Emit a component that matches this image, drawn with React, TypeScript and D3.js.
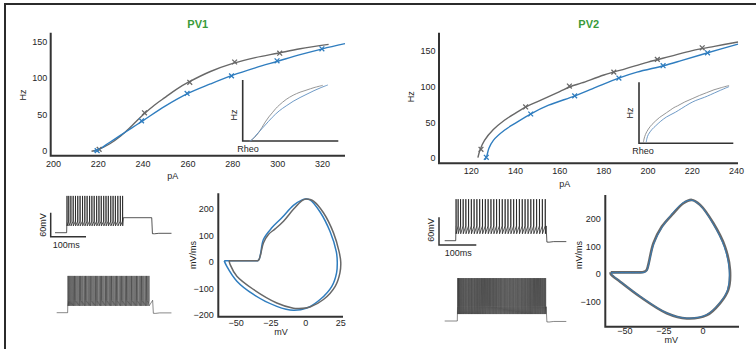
import React from "react";
import * as d3 from "d3";

type Pt = [number, number];

// ---- f-I curves (pA, Hz) ----
const pv1GrayFit: Pt[] = [[217, 0], [220, 2.5], [225, 10], [230, 21], [235, 35], [240, 50], [245, 63], [250, 74], [255, 85], [260, 94], [270, 109], [280, 120], [290, 128], [300, 134], [310, 140], [322.7, 146]];
const pv1BlueFit: Pt[] = [[218, 0], [220, 2], [225, 12], [230, 22], [235, 32], [240, 42], [250, 62], [260, 79], [270, 92], [280, 104], [290, 114], [300, 123], [310, 132], [320, 140], [330, 147]];
const pv1GrayPts: Pt[] = [[220.4, 2.7], [240.6, 52.6], [260.8, 94.3], [280.8, 122], [300.9, 134]];
const pv1BluePts: Pt[] = [[219.5, 1], [239.3, 41.6], [259.6, 79], [279.4, 103], [299.7, 123.6], [319.7, 140]];

const pv2GrayFit: Pt[] = [[123, 1], [124, 12], [126, 25], [130, 40], [135, 53], [140, 63], [145, 72], [150, 79], [160, 93], [165, 100], [170, 105], [180, 116], [190, 125], [200, 134], [210, 142], [220, 150], [230, 156], [240.7, 162]];
const pv2BlueFit: Pt[] = [[126.3, -2], [127, 3], [128, 14], [130, 25], [135, 39], [140, 49], [147, 62], [155, 74], [167, 87], [175, 97], [187, 112], [195, 120], [207, 129], [215, 136], [227, 147], [240.7, 159]];
const pv2GrayPts: Pt[] = [[124.4, 12.5], [144.6, 71.5], [164.4, 100.7], [184.5, 120], [204.2, 137.9], [224.5, 154]];
const pv2BluePts: Pt[] = [[126.8, 1.4], [146.9, 61.7], [166.8, 87], [186.8, 111.8], [206.8, 129], [226.9, 147]];

const pv1XTicks = [200, 220, 240, 260, 280, 300, 320];
const pv1YTicks = [0, 50, 100, 150];
const pv2XTicks = [120, 140, 160, 180, 200, 220, 240];
const pv2YTicks = [0, 50, 100, 150];

// ---- phase plots (mV, mV/ms) ----
const pv1PhaseGray: Pt[] = [[-55, 6], [-45, 6], [-38, 6], [-34, 7], [-32.7, 23], [-30.4, 73], [-26.8, 105], [-22, 126], [-16, 155], [-8.9, 200], [-3, 232], [0, 239], [3, 237], [5.5, 231], [12.6, 187], [19.8, 111], [23.8, 40], [25, 0], [24.4, -40], [21, -91], [12.6, -141], [3, -169], [-5, -175], [-8.9, -174], [-20.8, -154], [-37.5, -103], [-49.4, -53], [-54.2, -9], [-55, 6]];
const pv1PhaseBlue: Pt[] = [[-58.5, 6], [-45, 6], [-38, 6], [-34, 7], [-32.5, 30], [-30.4, 86], [-24.4, 130], [-17.2, 168], [-8.9, 215], [-3, 235], [0, 239], [3, 236], [10.2, 190], [17.4, 115], [21.8, 40], [22.5, 0], [22, -40], [18.6, -91], [10.2, -141], [0.7, -173], [-8.9, -182], [-20.8, -167], [-37.5, -122], [-49.4, -72], [-56.7, -15], [-58.5, 6]];
const pv2PhaseGray: Pt[] = [[-59, 6], [-50, 6], [-42, 6], [-38, 7], [-36, 15], [-35, 33], [-31.7, 112], [-26.3, 173], [-19, 221], [-12.6, 258], [-7.2, 270], [-1.9, 252], [6.6, 185], [14, 100], [17.2, 15], [16.1, -58], [10.8, -107], [2.4, -150], [-10.4, -162], [-23.2, -143], [-40.2, -83], [-53, -28], [-59, 0], [-59, 6]];
const pv2PhaseBlue: Pt[] = [[-58.5, 5], [-50, 5], [-42, 5], [-37.5, 6], [-36, 12], [-35, 30], [-31.5, 110], [-26, 172], [-19.5, 222], [-13, 259], [-7.5, 269], [-2.5, 254], [6, 187], [13.5, 100], [16.7, 15], [15.6, -58], [10.5, -106], [2, -149], [-10.6, -161], [-23.2, -142], [-40, -82], [-53, -27], [-58.5, 0], [-58.5, 5]];

const pv1PhaseXTicks = [-50, -25, 0, 25];
const pv1PhaseYTicks = [-200, -100, 0, 100, 200];
const pv2PhaseXTicks = [-50, -25, 0];
const pv2PhaseYTicks = [-100, 0, 100, 200];

// ---- spike trains (ms after step onset / inter-spike intervals) ----
const pv1TopSpikes = [1, 6, 12, 18.5, 25, 31.5, 38, 45, 51.5, 58, 65, 71.5, 78, 85, 91.5, 98, 105, 111.5, 118, 125, 131.5, 138, 145, 152, 158.5];
const pv1LowIsi = [2.6, 2.9, 3.1, 3.2, 3.3, 3.4, 3.3, 3.5, 3.4, 3.6, 3.4, 3.5, 3.3, 3.7, 3.4, 3.5, 3.6, 3.3, 3.4, 3.8, 3.5, 3.4, 3.6, 3.5, 3.3, 3.7, 3.5, 3.4, 3.6, 3.5, 3.8, 3.4, 3.5, 3.6, 3.3, 3.5, 3.7, 3.4, 3.6, 3.5, 3.4, 3.8, 3.5, 3.6, 3.4, 3.5, 3.7, 3.3, 3.6, 3.5, 3.4, 3.6, 3.7, 3.5, 3.4, 3.6, 3.5, 3.8, 3.4, 3.5, 3.6, 3.4, 3.7, 3.5, 3.6, 3.4];
const pv2TopIsi = [5.5, 6.5, 7, 7.2, 7.3, 7.4, 7.4, 7.5, 7.5, 7.5, 7.6, 7.5, 7.6, 7.6, 7.5, 7.6, 7.6, 7.7, 7.6, 7.6, 7.7, 7.6, 7.7, 7.7, 7.6, 7.7, 7.7, 7.7, 7.8, 7.7, 7.7, 7.8];
const pv2LowIsi = [2.2, 2.4, 2.5, 2.6, 2.6, 2.7, 2.5, 2.8, 2.6, 2.7, 2.9, 2.6, 2.7, 2.8, 2.5, 2.7, 2.9, 2.6, 2.8, 2.7, 2.6, 2.8, 2.7, 2.9, 2.6, 2.7, 2.8, 2.6, 2.9, 2.7, 2.8, 2.6, 2.7, 2.9, 2.7, 2.6, 2.8, 2.7, 2.6, 2.9, 2.7, 2.8, 2.6, 2.7, 2.9, 2.8, 2.6, 2.7, 2.8, 2.7, 2.9, 2.6, 2.7, 2.8, 2.7, 2.6, 2.9, 2.7, 2.8, 2.6, 2.7, 2.8, 2.9, 2.6, 2.7, 2.8, 2.7, 2.6, 2.9, 2.7, 2.8, 2.7, 2.6, 2.8, 2.9, 2.7, 2.6, 2.8, 2.7, 2.7, 2.8, 2.6, 2.9, 2.7, 2.8, 2.6, 2.7];

const FONT = "Liberation Sans, Arial, Helvetica, sans-serif";
const INK = "#262626";
const AXIS = "#333333";
const GRAY = "#686868";
const BLUE = "#2f7dbf";
const GREEN = "#3a9b3a";

const fromIsi = (isi: number[]) => {
  const out = [1];
  isi.forEach((d) => out.push(out[out.length - 1] + d));
  return out;
};

const minus = (v: number) => (v < 0 ? "\u2212" + Math.abs(v) : String(v));

const Cross = ({ x, y, color }: { x: number; y: number; color: string }) => {
  const s = 2.4;
  return <path d={`M${x - s},${y - s}L${x + s},${y + s}M${x - s},${y + s}L${x + s},${y - s}`} stroke={color} strokeWidth={1.3} fill="none" />;
};

function FIPanel(p: any) {
  const x = d3.scaleLinear().domain(p.xd).range([p.left, p.right]);
  const y = d3.scaleLinear().domain(p.yd).range([p.bottom, p.top]);
  const line = d3.line<Pt>().x((d) => x(d[0])).y((d) => y(d[1])).curve(d3.curveCatmullRom);
  const ix = d3.scaleLinear().domain(p.inset.xd).range([p.inset.left, p.inset.right]);
  const iy = d3.scaleLinear().domain(p.inset.yd).range([p.inset.bottom, p.inset.top]);
  const iline = d3.line<Pt>().x((d) => ix(d[0])).y((d) => iy(d[1])).curve(d3.curveCatmullRom);
  return (
    <g fontFamily={FONT} fill={INK}>
      <text x={p.titleX} y={24} textAnchor="middle" dy="0.35em" fontSize={11} fontWeight="bold" fill={GREEN}>{p.title}</text>
      <path d={`M${p.left},${p.top}V${p.bottom}H${p.right}`} stroke={AXIS} strokeWidth={2} fill="none" />
      {p.yTicks.map((t: number) => (
        <text key={"y" + t} x={p.left - 3.5} y={y(t)} dy="0.35em" textAnchor="end" fontSize={9}>{t}</text>
      ))}
      {p.xTicks.map((t: number) => (
        <text key={"x" + t} x={x(t)} y={p.bottom + 8} dy="0.35em" textAnchor="middle" fontSize={9}>{t}</text>
      ))}
      <text transform={`translate(${p.hz[0]},${p.hz[1]}) rotate(-90)`} dy="0.35em" textAnchor="middle" fontSize={9}>Hz</text>
      <text x={p.pa[0]} y={p.pa[1]} dy="0.35em" textAnchor="middle" fontSize={9}>pA</text>
      <path d={line(p.grayFit) || ""} stroke={GRAY} strokeWidth={1.4} fill="none" />
      <path d={line(p.blueFit) || ""} stroke={BLUE} strokeWidth={1.4} fill="none" />
      {p.grayPts.map((d: Pt, i: number) => <Cross key={"g" + i} x={x(d[0])} y={y(d[1])} color={GRAY} />)}
      {p.bluePts.map((d: Pt, i: number) => <Cross key={"b" + i} x={x(d[0])} y={y(d[1])} color={BLUE} />)}
      {/* inset: same fits, rheobase-aligned */}
      <path d={`M${p.inset.left},${p.inset.top}V${p.inset.bottom}H${p.inset.right}`} stroke={AXIS} strokeWidth={1.6} fill="none" />
      <path d={iline(p.grayFit.filter((d: Pt) => d[1] >= 0)) || ""} stroke="#8a8a8a" strokeWidth={0.9} fill="none" />
      <path d={iline(p.blueFit.filter((d: Pt) => d[1] >= 0)) || ""} stroke="#5f8fc0" strokeWidth={0.9} fill="none" />
      <text transform={`translate(${p.inset.hz[0]},${p.inset.hz[1]}) rotate(-90)`} dy="0.35em" textAnchor="middle" fontSize={9}>Hz</text>
      <text x={p.inset.rheo[0]} y={p.inset.rheo[1]} dy="0.35em" textAnchor="middle" fontSize={9}>Rheo</text>
    </g>
  );
}

function PhasePanel(p: any) {
  const x = d3.scaleLinear().domain(p.xd).range([p.left, p.right]);
  const y = d3.scaleLinear().domain(p.yd).range([p.bottom, p.top]);
  const line = d3.line<Pt>().x((d) => x(d[0])).y((d) => y(d[1])).curve(d3.curveCatmullRom.alpha(0.5));
  return (
    <g fontFamily={FONT} fill={INK}>
      <path d={`M${p.left},${p.top}V${p.bottom}H${p.right}`} stroke={AXIS} strokeWidth={2} fill="none" />
      {p.yTicks.map((t: number) => (
        <text key={"y" + t} x={p.left - 4.5} y={y(t)} dy="0.35em" textAnchor="end" fontSize={9}>{minus(t)}</text>
      ))}
      {p.xTicks.map((t: number) => (
        <text key={"x" + t} x={x(t)} y={p.bottom + p.xLabOff} dy="0.35em" textAnchor="middle" fontSize={9}>{minus(t)}</text>
      ))}
      <text transform={`translate(${p.ylab[0]},${p.ylab[1]}) rotate(-90)`} dy="0.35em" textAnchor="middle" fontSize={9}>mV/ms</text>
      <text x={p.xlab[0]} y={p.xlab[1]} dy="0.35em" textAnchor="middle" fontSize={9}>mV</text>
      {p.grayUnder ? (
        <>
          <path d={line(p.gray) || ""} stroke={GRAY} strokeWidth={2.6} fill="none" />
          <path d={line(p.blue) || ""} stroke={BLUE} strokeWidth={0.9} fill="none" />
        </>
      ) : (
        <>
          <path d={line(p.blue) || ""} stroke={BLUE} strokeWidth={1.5} fill="none" />
          <path d={line(p.gray) || ""} stroke={GRAY} strokeWidth={1.5} fill="none" />
        </>
      )}
    </g>
  );
}

function buildTrace(sp: any, spikes: number[]): Pt[] {
  const pts: Pt[] = [[0, sp.base], [sp.onset, sp.base], [sp.onset + 0.6, sp.thr]];
  spikes.forEach((s) => {
    const t = sp.onset + s;
    pts.push([t - 0.2, sp.thr], [t, sp.peak], [t + 0.35, sp.trough]);
  });
  const last = sp.onset + spikes[spikes.length - 1];
  if (sp.hold != null) pts.push([last + 2, sp.hold], [sp.stepEnd, sp.hold]);
  else pts.push([sp.stepEnd, sp.thr]);
  pts.push([sp.stepEnd + 2, sp.baseAfter - 1], [sp.stepEnd + 8, sp.baseAfter - 1.2], [sp.stepEnd + 20, sp.baseAfter], [sp.end, sp.baseAfter]);
  return pts;
}

function Trace(p: any) {
  const t = d3.scaleLinear().domain([0, 100]).range([p.x0, p.x0 + p.pxPer100ms]);
  const v = d3.scaleLinear().domain([p.sp.base, p.sp.base + 60]).range([p.y0, p.y0 - p.pxPer60mV]);
  const line = d3.line<Pt>().x((d) => t(d[0])).y((d) => v(d[1]));
  return <path d={line(buildTrace(p.sp, p.spikes)) || ""} stroke="#151515" strokeWidth={p.w} strokeOpacity={p.op} fill="none" />;
}

function ScaleBar(p: any) {
  return (
    <g fontFamily={FONT} fill={INK}>
      <path d={`M${p.x},${p.y - p.h}V${p.y}H${p.x + p.w}`} stroke={AXIS} strokeWidth={1.5} fill="none" />
      <text transform={`translate(${p.mvLab[0]},${p.mvLab[1]}) rotate(-90)`} dy="0.35em" textAnchor="middle" fontSize={9}>60mV</text>
      <text x={p.msLab[0]} y={p.msLab[1]} dy="0.35em" textAnchor="middle" fontSize={9}>100ms</text>
    </g>
  );
}

export default function App() {
  const pv1Top = { base: -75, baseAfter: -76.5, onset: 33, stepEnd: 274, end: 330, peak: 17, thr: -46, trough: -58, hold: -37.5 };
  const pv1Low = { base: -75, baseAfter: -75.5, onset: 31, stepEnd: 271.8, end: 325, peak: 17, thr: -44, trough: -58, hold: null };
  const pv2Top = { base: -75, baseAfter: -77, onset: 29.5, stepEnd: 272, end: 326, peak: 15, thr: -43, trough: -60, hold: null };
  const pv2Low = { base: -75, baseAfter: -76, onset: 33.8, stepEnd: 272, end: 326, peak: 18, thr: -44, trough: -60, hold: null };
  return (
    <svg width={756} height={349} style={{ position: "absolute", left: 0, top: 0, background: "#fff" }}>
      <path d="M5,349V4H756" stroke="#2b2b2b" strokeWidth={2} fill="none" />
      <FIPanel
        title="PV1" titleX={197.7} left={50.7} right={345} top={32.7} bottom={155.7}
        xd={[198.8, 330]} yd={[-6, 162]} xTicks={pv1XTicks} yTicks={pv1YTicks}
        hz={[23, 95]} pa={[172.7, 176]}
        grayFit={pv1GrayFit} blueFit={pv1BlueFit} grayPts={pv1GrayPts} bluePts={pv1BluePts}
        inset={{ left: 242.7, right: 338.3, top: 80, bottom: 141, xd: [207.5, 345], yd: [0, 160], hz: [234.3, 115], rheo: [248, 149] }}
      />
      <FIPanel
        title="PV2" titleX={588.7} left={439} right={738} top={32.7} bottom={163.3}
        xd={[105.4, 240.7]} yd={[-7, 175]} xTicks={pv2XTicks} yTicks={pv2YTicks}
        hz={[411.3, 96.7]} pa={[564.7, 184.3]}
        grayFit={pv2GrayFit} blueFit={pv2BlueFit} grayPts={pv2GrayPts} bluePts={pv2BluePts}
        inset={{ left: 639, right: 733.3, top: 82.3, bottom: 143.3, xd: [117.1, 246.5], yd: [0, 171], hz: [630, 113], rheo: [643, 150.7] }}
      />
      <Trace x0={55} y0={232.7} pxPer100ms={35.3} pxPer60mV={24} sp={pv1Top} spikes={pv1TopSpikes} w={0.9} op={0.8} />
      <Trace x0={56.7} y0={312.7} pxPer100ms={35.3} pxPer60mV={24} sp={pv1Low} spikes={fromIsi(pv1LowIsi)} w={0.75} op={0.68} />
      <ScaleBar x={50.7} y={236.7} h={24} w={35.3} mvLab={[42.7, 225]} msLab={[66.3, 245]} />
      <Trace x0={444.7} y0={240.7} pxPer100ms={37.3} pxPer60mV={27.7} sp={pv2Top} spikes={fromIsi(pv2TopIsi)} w={0.9} op={0.8} />
      <Trace x0={444.7} y0={321} pxPer100ms={37.3} pxPer60mV={27.7} sp={pv2Low} spikes={fromIsi(pv2LowIsi)} w={0.75} op={0.68} />
      <ScaleBar x={439} y={245} h={27.7} w={37.3} mvLab={[430.7, 230]} msLab={[458.3, 252.7]} />
      <PhasePanel
        left={218.3} right={343} top={193.3} bottom={316.7} xd={[-62.7, 26.6]} yd={[-206, 260.6]}
        xTicks={pv1PhaseXTicks} yTicks={pv1PhaseYTicks} xLabOff={6.6} ylab={[192.7, 255]} xlab={[281, 331.5]}
        gray={pv1PhaseGray} blue={pv1PhaseBlue} grayUnder={false}
      />
      <PhasePanel
        left={605.3} right={739} top={195} bottom={326.7} xd={[-62.5, 23]} yd={[-192, 288]}
        xTicks={pv2PhaseXTicks} yTicks={pv2PhaseYTicks} xLabOff={4.5} ylab={[579, 255]} xlab={[671.3, 340]}
        gray={pv2PhaseGray} blue={pv2PhaseBlue} grayUnder={true}
      />
    </svg>
  );
}
